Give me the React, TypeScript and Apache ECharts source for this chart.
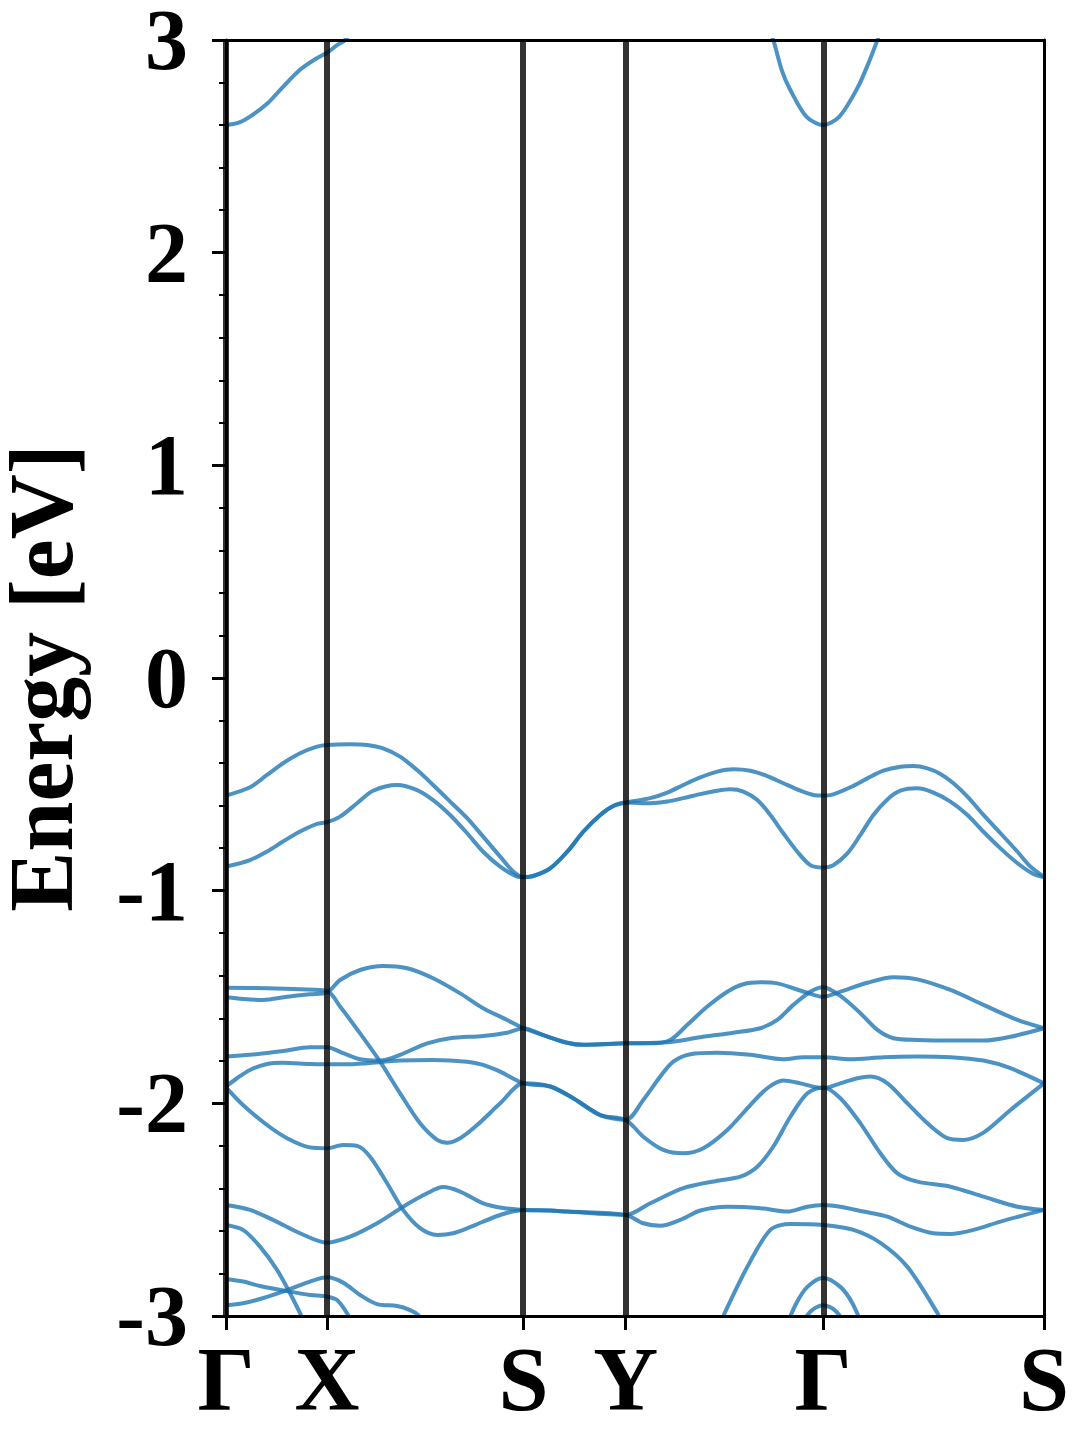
import React, { useEffect, useRef } from "react";
import * as echarts from "echarts";

// High-symmetry path (k distance) and labels
const kPoints = [0, 1.01, 2.973, 3.995, 5.967, 8.175];
const kLabels = ["Γ", "X", "S", "Y", "Γ", "S"];
const yMin = -3;
const yMax = 3;

// Conduction bands
const cb1 = [[0,2.60],[0.12,2.61],[0.24,2.64],[0.41,2.70],[0.57,2.78],[0.74,2.86],[0.91,2.915],[1.01,2.94],[1.11,2.976],[1.19,3.0],[1.28,3.06]];
const cb2 = [[5.39,3.11],[5.47,3.0],[5.56,2.85],[5.64,2.765],[5.80,2.64],[5.967,2.60],[6.13,2.64],[6.31,2.774],[6.42,2.89],[6.51,3.0],[6.58,3.09]];

// Top valence bands
const vb1 = [[0,-0.553],[0.24,-0.514],[0.41,-0.456],[0.57,-0.401],[0.74,-0.354],[0.91,-0.323],[1.01,-0.315],[1.24,-0.312],[1.41,-0.315],[1.57,-0.331],[1.74,-0.370],[1.91,-0.433],[2.07,-0.503],[2.24,-0.581],[2.41,-0.659],[2.57,-0.746],[2.74,-0.840],[2.87,-0.910],[2.973,-0.936],
  [3.07,-0.931],[3.24,-0.895],[3.41,-0.817],[3.57,-0.723],[3.74,-0.644],[3.87,-0.602],[3.995,-0.586],
  [4.24,-0.565],[4.41,-0.539],[4.57,-0.503],[4.74,-0.467],[4.91,-0.440],[5.07,-0.429],[5.24,-0.436],[5.41,-0.461],[5.57,-0.495],[5.74,-0.530],[5.87,-0.550],[5.967,-0.553],
  [6.07,-0.547],[6.24,-0.514],[6.41,-0.472],[6.57,-0.436],[6.74,-0.417],[6.87,-0.414],[7.01,-0.425],[7.14,-0.451],[7.27,-0.495],[7.41,-0.558],[7.57,-0.644],[7.74,-0.730],[7.91,-0.817],[8.04,-0.887],[8.175,-0.934]];
const vb2 = [[0,-0.887],[0.24,-0.856],[0.41,-0.816],[0.57,-0.769],[0.74,-0.722],[0.91,-0.686],[1.01,-0.678],[1.14,-0.652],[1.31,-0.589],[1.47,-0.530],[1.71,-0.503],[1.91,-0.527],[2.07,-0.574],[2.24,-0.644],[2.41,-0.730],[2.57,-0.817],[2.74,-0.887],[2.91,-0.934],[2.973,-0.937],
  [3.07,-0.931],[3.24,-0.895],[3.41,-0.817],[3.57,-0.723],[3.74,-0.644],[3.87,-0.602],[3.995,-0.586],
  [4.24,-0.589],[4.41,-0.581],[4.57,-0.565],[4.74,-0.546],[4.91,-0.530],[5.04,-0.523],[5.17,-0.534],[5.31,-0.574],[5.44,-0.644],[5.57,-0.730],[5.71,-0.817],[5.84,-0.880],[5.967,-0.891],
  [6.07,-0.880],[6.21,-0.825],[6.34,-0.738],[6.47,-0.644],[6.61,-0.571],[6.74,-0.530],[6.91,-0.519],[7.07,-0.539],[7.24,-0.581],[7.41,-0.644],[7.57,-0.723],[7.74,-0.801],[7.91,-0.871],[8.07,-0.922],[8.175,-0.937]];

// Lower valence bands
const lb1 = [[0,-1.456],[0.41,-1.459],[0.74,-1.464],[1.01,-1.472],
  [1.14,-1.545],[1.34,-1.671],[1.54,-1.804],[1.74,-1.953],[1.94,-2.094],[2.11,-2.172],[2.21,-2.185],[2.34,-2.164],[2.51,-2.102],[2.74,-2.000],[2.973,-1.906],
  [3.24,-1.921],[3.47,-1.976],[3.74,-2.055],[3.995,-2.078],
  [4.17,-2.157],[4.37,-2.219],[4.57,-2.235],[4.77,-2.211],[5.01,-2.125],[5.24,-2.008],[5.41,-1.929],[5.57,-1.893],[5.74,-1.906],[5.967,-1.929],
  [6.14,-1.906],[6.31,-1.882],[6.44,-1.874],[6.61,-1.906],[6.81,-2.000],[7.01,-2.094],[7.21,-2.164],[7.37,-2.172],[7.57,-2.138],[7.84,-2.031],[8.175,-1.906]];
const lb2 = [[0,-1.501],[0.17,-1.509],[0.37,-1.514],[0.61,-1.499],[0.84,-1.487],[1.01,-1.478],
  [1.14,-1.420],[1.34,-1.373],[1.57,-1.354],[1.81,-1.365],[2.07,-1.412],[2.34,-1.483],[2.57,-1.553],[2.81,-1.608],[2.973,-1.647],
  [3.17,-1.679],[3.41,-1.715],[3.57,-1.725],[3.995,-1.718],
  [4.24,-1.718],[4.44,-1.702],[4.61,-1.631],[4.81,-1.545],[5.01,-1.475],[5.17,-1.440],[5.34,-1.431],[5.51,-1.436],[5.67,-1.459],[5.81,-1.480],[5.967,-1.499],
  [6.14,-1.475],[6.41,-1.433],[6.67,-1.407],[6.91,-1.417],[7.24,-1.467],[7.57,-1.537],[7.91,-1.608],[8.175,-1.647]];
const lb3 = [[0,-1.780],[0.24,-1.772],[0.57,-1.754],[0.84,-1.736],[1.01,-1.736],[1.17,-1.764],[1.34,-1.793],[1.54,-1.799],[1.74,-1.772],[2.01,-1.718],[2.24,-1.694],[2.57,-1.683],[2.81,-1.668],[2.973,-1.647],
  [3.17,-1.679],[3.41,-1.715],[3.57,-1.725],[3.995,-1.718],
  [4.41,-1.713],[4.74,-1.689],[5.07,-1.668],[5.34,-1.647],[5.51,-1.608],[5.67,-1.537],[5.84,-1.475],[5.967,-1.454],
  [6.14,-1.495],[6.34,-1.576],[6.51,-1.655],[6.67,-1.694],[6.91,-1.702],[7.24,-1.705],[7.57,-1.705],[7.84,-1.687],[8.175,-1.647]];
const lb4 = [[0,-1.921],[0.11,-1.882],[0.24,-1.843],[0.41,-1.815],[0.57,-1.809],[0.84,-1.815],[1.01,-1.816],[1.24,-1.816],[1.41,-1.811],[1.74,-1.799],[2.07,-1.796],[2.41,-1.804],[2.57,-1.819],[2.74,-1.851],[2.973,-1.906],
  [3.24,-1.921],[3.47,-1.976],[3.74,-2.055],[3.995,-2.078],
  [4.17,-1.984],[4.34,-1.874],[4.47,-1.804],[4.64,-1.769],[4.91,-1.762],[5.24,-1.772],[5.57,-1.793],[5.77,-1.783],[5.967,-1.783],
  [6.24,-1.793],[6.57,-1.783],[6.91,-1.780],[7.24,-1.783],[7.57,-1.799],[7.84,-1.835],[8.175,-1.906]];
const lb5 = [[0,-1.925],[0.17,-2.008],[0.41,-2.102],[0.61,-2.164],[0.84,-2.207],[1.01,-2.211],[1.17,-2.196],[1.31,-2.200],[1.44,-2.251],[1.61,-2.376],[1.77,-2.501],[1.94,-2.587],[2.11,-2.619],[2.27,-2.611],[2.47,-2.576],[2.74,-2.525],[2.973,-2.501],
  [3.24,-2.504],[3.41,-2.509],[3.995,-2.525],
  [4.24,-2.470],[4.57,-2.399],[4.91,-2.364],[5.14,-2.345],[5.31,-2.298],[5.47,-2.203],[5.64,-2.063],[5.81,-1.953],[5.967,-1.924],
  [6.14,-1.976],[6.34,-2.094],[6.54,-2.235],[6.71,-2.329],[6.91,-2.368],[7.24,-2.392],[7.57,-2.439],[7.91,-2.486],[8.175,-2.501]];
const lb6 = [[0,-2.478],[0.24,-2.501],[0.47,-2.548],[0.74,-2.611],[1.01,-2.655],[1.24,-2.627],[1.51,-2.564],[1.77,-2.486],[2.01,-2.423],[2.17,-2.394],[2.34,-2.415],[2.57,-2.470],[2.77,-2.492],[2.973,-2.501],
  [3.24,-2.504],[3.41,-2.509],[3.995,-2.525],
  [4.17,-2.564],[4.34,-2.576],[4.54,-2.548],[4.74,-2.504],[5.01,-2.486],[5.34,-2.493],[5.61,-2.509],[5.81,-2.486],[5.967,-2.478],
  [6.14,-2.486],[6.37,-2.509],[6.61,-2.533],[6.84,-2.580],[7.07,-2.611],[7.24,-2.614],[7.47,-2.595],[7.74,-2.556],[8.175,-2.501]];
const lb7 = [[0,-2.572],[0.17,-2.595],[0.34,-2.674],[0.51,-2.783],[0.64,-2.893],[0.74,-2.987],[0.80,-3.05]];
const lb8 = [[0,-2.826],[0.17,-2.838],[0.34,-2.859],[0.61,-2.883],[0.84,-2.901],[1.01,-2.909],[1.11,-2.925],[1.22,-2.995],[1.26,-3.04]];
const lb9 = [[0,-2.949],[0.17,-2.940],[0.34,-2.920],[0.61,-2.878],[0.84,-2.838],[1.01,-2.818],[1.17,-2.843],[1.34,-2.901],[1.51,-2.944],[1.71,-2.953],[1.84,-2.972],[1.92,-2.995],[1.98,-3.04]];
const lb10 = [[4.94,-3.04],[4.97,-3.0],[5.21,-2.769],[5.44,-2.595],[5.64,-2.567],[5.967,-2.572],[6.27,-2.595],[6.54,-2.656],[6.81,-2.769],[7.11,-2.986],[7.14,-3.02]];
const lb11 = [[5.58,-3.07],[5.70,-2.94],[5.81,-2.863],[5.967,-2.821],[6.14,-2.863],[6.26,-2.94],[6.38,-3.07]];
const lb12 = [[5.72,-3.06],[5.85,-2.975],[5.967,-2.949],[6.09,-2.975],[6.22,-3.06]];

const bands = [cb1, cb2, vb1, vb2, lb1, lb2, lb3, lb4, lb5, lb6, lb7, lb8, lb9, lb10, lb11, lb12];

const FONT = "'Liberation Serif', 'Times New Roman', serif";

export default function App() {
  const ref = useRef<HTMLDivElement>(null);
  useEffect(() => {
    if (!ref.current) return;
    const chart = echarts.init(ref.current, undefined, { renderer: "svg" });
    const labelFor = (v: number) => {
      const i = kPoints.findIndex((p) => Math.abs(p - v) < 1e-6);
      return i >= 0 ? kLabels[i] : "";
    };
    const bandSeries = bands.map((d) => ({
      type: "line",
      data: d,
      smooth: 0.3,
      symbol: "none",
      showSymbol: false,
      silent: true,
      clip: true,
      z: 3,
      lineStyle: { color: "#1f77b4", width: 4, opacity: 0.8 },
    }));
    const vlines = {
      type: "line",
      data: [],
      silent: true,
      z: 2,
      markLine: {
        silent: true,
        symbol: "none",
        label: { show: false },
        lineStyle: { color: "#000", opacity: 0.8, width: 6, type: "solid" },
        data: kPoints.map((k) => ({ xAxis: k })),
      },
    };
    chart.setOption({
      animation: false,
      backgroundColor: "#fff",
      grid: { left: 226, right: 36, top: 40, bottom: 124, containLabel: false, outerBoundsMode: "none" },
      xAxis: [
        {
          type: "value",
          min: 0,
          max: kPoints[kPoints.length - 1],
          z: 10,
          splitLine: { show: false },
          axisLine: { show: true, onZero: false, lineStyle: { color: "#000", width: 3 } },
          axisTick: { show: true, customValues: kPoints, length: 14, lineStyle: { color: "#000", width: 3 } },
          axisLabel: {
            show: true,
            customValues: kPoints,
            formatter: (v: number) => labelFor(v),
            fontFamily: FONT,
            fontWeight: "bold",
            fontSize: 90,
            color: "#000",
            margin: 18,
          },
        },
        {
          type: "value",
          position: "top",
          min: 0,
          max: kPoints[kPoints.length - 1],
          z: 10,
          splitLine: { show: false },
          axisLine: { show: true, onZero: false, lineStyle: { color: "#000", width: 3 } },
          axisTick: { show: false },
          axisLabel: { show: false },
        },
      ],
      yAxis: [
        {
          type: "value",
          min: yMin,
          max: yMax,
          interval: 1,
          z: 10,
          name: "Energy [eV]",
          nameLocation: "middle",
          nameGap: 150,
          nameTextStyle: { fontFamily: FONT, fontWeight: "bold", fontSize: 90, lineHeight: 70, color: "#000" },
          splitLine: { show: false },
          axisLine: { show: true, onZero: false, lineStyle: { color: "#000", width: 3 } },
          axisTick: { show: true, length: 14, lineStyle: { color: "#000", width: 3 } },
          minorTick: { show: true, splitNumber: 5, length: 7, lineStyle: { color: "#000", width: 2 } },
          minorSplitLine: { show: false },
          axisLabel: {
            fontFamily: FONT,
            fontWeight: "bold",
            fontSize: 86,
            lineHeight: 64,
            color: "#000",
            margin: 38,
          },
        },
        {
          type: "value",
          position: "right",
          min: yMin,
          max: yMax,
          z: 10,
          splitLine: { show: false },
          axisLine: { show: true, onZero: false, lineStyle: { color: "#000", width: 3 } },
          axisTick: { show: false },
          axisLabel: { show: false },
        },
      ],
      series: [vlines, ...bandSeries],
    });
    return () => chart.dispose();
  }, []);
  return (
    <div
      ref={ref}
      style={{ position: "absolute", left: 0, top: 0, width: 1080, height: 1440, background: "#fff" }}
    />
  );
}
